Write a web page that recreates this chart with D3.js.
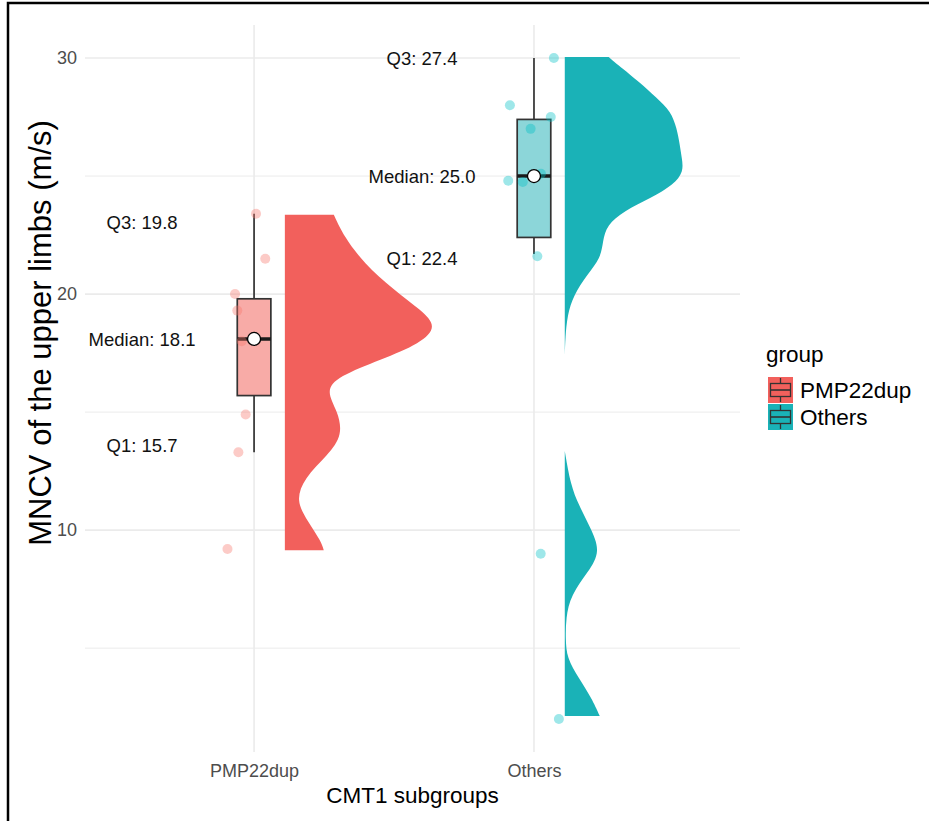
<!DOCTYPE html>
<html>
<head>
<meta charset="utf-8">
<script src="https://cdn.jsdelivr.net/npm/d3@7"></script>
<style>
  body { margin: 0; background: #fff; }
  svg { display: block; font-family: "Liberation Sans", Arial, sans-serif; }
</style>
</head>
<body>
<svg></svg>
<script>
// groups and summary stats
const groups = ["PMP22dup", "Others"]
const q1 = [15.7, 22.4]
const medians = [18.1, 25.0]
const q3 = [19.8, 27.4]
const whiskerLow = [13.3, 21.7]
const whiskerHigh = [23.4, 30.0]

// raw points (value) and their jitter offset from the group centre
const pmpValues = [23.4, 21.5, 20.0, 19.3, 18.0, 14.9, 13.3, 9.2]
const pmpJitter = [0.007, 0.04, -0.068, -0.06, -0.044, -0.03, -0.056, -0.095]
const othersValues = [30.0, 28.0, 27.5, 27.0, 24.8, 24.75, 25.1, 21.6, 9.0, 2.0]
const othersJitter = [0.071, -0.086, 0.06, -0.012, -0.092, -0.04, 0.025, 0.012, 0.024, 0.089]

// half violin profiles: value and width (x units)
const pmpDensityV = [23.36, 22.44, 21.31, 20.18, 19.33, 18.63, 17.92, 17.22, 16.51, 15.89, 15.04, 14.03, 13.18, 12.20, 11.23, 10.38, 9.53, 9.15]
const pmpDensityW = [0.175, 0.211, 0.282, 0.389, 0.486, 0.545, 0.486, 0.343, 0.189, 0.146, 0.189, 0.207, 0.154, 0.068, 0.039, 0.082, 0.129, 0.139]
// the Others density drops to ~0 between about 17 and 13, so it is kept in two pieces
const othersUpperV = [30.04, 29.58, 29.01, 28.31, 27.74, 27.03, 26.33, 25.76, 25.20, 24.63, 24.07, 23.52, 22.92, 22.25, 21.53, 20.81, 19.96, 19.11, 18.14, 17.42]
const othersUpperW = [0.157, 0.204, 0.264, 0.329, 0.379, 0.4, 0.411, 0.418, 0.425, 0.389, 0.307, 0.211, 0.15, 0.136, 0.129, 0.079, 0.032, 0.009, 0.002, 0]
const othersLowerV = [13.35, 11.91, 11.06, 10.08, 9.11, 8.26, 7.25, 6.27, 5.42, 4.58, 3.73, 2.88, 2.12]
const othersLowerW = [0, 0.021, 0.05, 0.093, 0.128, 0.086, 0.021, 0.004, 0.003, 0.007, 0.05, 0.096, 0.125]

// where the Q1 / Q3 text labels sit (value units)
const labelQ3At = [23.05, 30.0]
const labelQ1At = [13.6, 21.5]

const yTicks = [10, 20, 30]
const yMinor = [5, 15, 25]

const width = 929
const height = 821

const svg = d3.select("svg")
  .attr("width", width)
  .attr("height", height)

const fill = d3.scaleOrdinal().domain(groups).range(["#F2605C", "#1AB2B7"])
const boxFill = d3.scaleOrdinal().domain(groups).range(["#F8ABA7", "#8CD6D9"])
const pointFill = d3.scaleOrdinal().domain(groups).range(["#F8766D", "#00BFC4"])

const allValues = pmpValues.concat(othersValues)
const ext = d3.extent(allValues)
const pad = (ext[1] - ext[0]) * 0.05

const x = d3.scaleLinear()
  .domain([0.396, 2.736])
  .range([85, 740])

const y = d3.scaleLinear()
  .domain([ext[0] - pad, ext[1] + pad])
  .range([752, 25])

// frame
svg.append("path")
  .attr("d", `M8,${height}V3H${width}`)
  .attr("fill", "none")
  .attr("stroke", "#000")
  .attr("stroke-width", 2.5)

// grid
const grid = svg.append("g").attr("class", "grid")
grid.selectAll("line.minor")
  .data(yMinor)
  .enter()
  .append("line")
  .attr("x1", x.range()[0]).attr("x2", x.range()[1])
  .attr("y1", d => y(d)).attr("y2", d => y(d))
  .attr("stroke", "#ebebeb")
  .attr("stroke-width", 1)
grid.selectAll("line.major")
  .data(yTicks)
  .enter()
  .append("line")
  .attr("x1", x.range()[0]).attr("x2", x.range()[1])
  .attr("y1", d => y(d)).attr("y2", d => y(d))
  .attr("stroke", "#ebebeb")
  .attr("stroke-width", 1.6)
grid.selectAll("line.vert")
  .data(groups)
  .enter()
  .append("line")
  .attr("x1", (d, i) => x(i + 1)).attr("x2", (d, i) => x(i + 1))
  .attr("y1", y.range()[1]).attr("y2", y.range()[0])
  .attr("stroke", "#ebebeb")
  .attr("stroke-width", 1.6)

// axes
const yAxis = d3.axisLeft(y).tickValues(yTicks).tickSize(0).tickPadding(8)
svg.append("g")
  .attr("transform", `translate(${x.range()[0]},0)`)
  .call(yAxis)
  .call(g => g.select(".domain").remove())
  .selectAll("text")
  .attr("font-size", 18)
  .attr("fill", "#4d4d4d")
  .attr("font-family", "Liberation Sans, Arial, sans-serif")

const xAxis = d3.axisBottom(x).tickValues([1, 2]).tickFormat((d, i) => groups[i]).tickSize(0).tickPadding(12)
svg.append("g")
  .attr("transform", `translate(0,${y.range()[0]})`)
  .call(xAxis)
  .call(g => g.select(".domain").remove())
  .selectAll("text")
  .attr("font-size", 18)
  .attr("fill", "#4d4d4d")
  .attr("font-family", "Liberation Sans, Arial, sans-serif")

svg.append("text")
  .attr("x", (x.range()[0] + x.range()[1]) / 2)
  .attr("y", 803)
  .attr("text-anchor", "middle")
  .attr("font-size", 22.5)
  .attr("fill", "#000")
  .text("CMT1 subgroups")

svg.append("text")
  .attr("transform", "translate(51,333) rotate(-90)")
  .attr("text-anchor", "middle")
  .attr("font-size", 31)
  .attr("fill", "#000")
  .text("MNCV of the upper limbs (m/s)")

// half violins
const densities = [
  { group: "PMP22dup", pos: 1, v: pmpDensityV, w: pmpDensityW },
  { group: "Others", pos: 2, v: othersUpperV, w: othersUpperW },
  { group: "Others", pos: 2, v: othersLowerV, w: othersLowerW }
]
const offset = 0.11
densities.forEach(dd => {
  const rows = dd.v.map((v, i) => ({ v: v, w: dd.w[i] })).sort((a, b) => a.v - b.v)
  const area = d3.area()
    .y(d => y(d.v))
    .x0(x(dd.pos + offset))
    .x1(d => x(dd.pos + offset + d.w))
    .curve(d3.curveBasis)
  svg.append("path")
    .attr("d", area(rows))
    .attr("fill", fill(dd.group))
})

// boxplots
const boxW = 0.12
const boxes = svg.append("g").attr("class", "boxes")
groups.forEach((g, i) => {
  const cx = i + 1
  const bg = boxes.append("g")
  bg.append("line")
    .attr("x1", x(cx)).attr("x2", x(cx))
    .attr("y1", y(whiskerHigh[i])).attr("y2", y(q3[i]))
    .attr("stroke", "#333").attr("stroke-width", 1.7)
  bg.append("line")
    .attr("x1", x(cx)).attr("x2", x(cx))
    .attr("y1", y(q1[i])).attr("y2", y(whiskerLow[i]))
    .attr("stroke", "#333").attr("stroke-width", 1.7)
  bg.append("rect")
    .attr("x", x(cx - boxW / 2))
    .attr("y", y(q3[i]))
    .attr("width", x(cx + boxW / 2) - x(cx - boxW / 2))
    .attr("height", y(q1[i]) - y(q3[i]))
    .attr("fill", boxFill(g))
    .attr("stroke", "#333")
    .attr("stroke-width", 1.7)
  bg.append("line")
    .attr("x1", x(cx - boxW / 2)).attr("x2", x(cx + boxW / 2))
    .attr("y1", y(medians[i])).attr("y2", y(medians[i]))
    .attr("stroke", "#1a1a1a").attr("stroke-width", 3.6)
})

// jittered points
const points = [
  { group: "PMP22dup", pos: 1, v: pmpValues, j: pmpJitter },
  { group: "Others", pos: 2, v: othersValues, j: othersJitter }
]
points.forEach(p => {
  svg.append("g")
    .selectAll("circle")
    .data(p.v)
    .enter()
    .append("circle")
    .attr("cx", (d, i) => x(p.pos + p.j[i]))
    .attr("cy", d => y(d))
    .attr("r", 5)
    .attr("fill", pointFill(p.group))
    .attr("fill-opacity", 0.38)
})

// median markers
svg.append("g")
  .selectAll("circle")
  .data(medians)
  .enter()
  .append("circle")
  .attr("cx", (d, i) => x(i + 1))
  .attr("cy", d => y(d))
  .attr("r", 6.5)
  .attr("fill", "#fff")
  .attr("stroke", "#000")
  .attr("stroke-width", 1.3)

// stat labels
const labels = []
groups.forEach((g, i) => {
  labels.push({ pos: i + 1, v: labelQ3At[i], text: `Q3: ${q3[i].toFixed(1)}` })
  labels.push({ pos: i + 1, v: medians[i], text: `Median: ${medians[i].toFixed(1)}` })
  labels.push({ pos: i + 1, v: labelQ1At[i], text: `Q1: ${q1[i].toFixed(1)}` })
})
svg.append("g")
  .selectAll("text")
  .data(labels)
  .enter()
  .append("text")
  .attr("x", d => x(d.pos - 0.4))
  .attr("y", d => y(d.v))
  .attr("dy", "0.36em")
  .attr("text-anchor", "middle")
  .attr("font-size", 18.5)
  .attr("fill", "#111")
  .text(d => d.text)

// legend
const legend = svg.append("g").attr("transform", "translate(766,0)")
legend.append("text")
  .attr("x", 0)
  .attr("y", 362)
  .attr("font-size", 22.5)
  .attr("fill", "#000")
  .text("group")
const keys = legend.selectAll("g.key")
  .data(groups)
  .enter()
  .append("g")
  .attr("transform", (d, i) => `translate(2,${377 + i * 27})`)
keys.append("rect")
  .attr("width", 25).attr("height", 26)
  .attr("fill", d => fill(d))
keys.append("rect")
  .attr("x", 2.5).attr("y", 6.5).attr("width", 20).attr("height", 13)
  .attr("fill", d => fill(d))
  .attr("stroke", "#333").attr("stroke-width", 1.3)
keys.append("line")
  .attr("x1", 2.5).attr("x2", 22.5).attr("y1", 13).attr("y2", 13)
  .attr("stroke", "#333").attr("stroke-width", 1.6)
keys.append("line")
  .attr("x1", 12.5).attr("x2", 12.5).attr("y1", 1).attr("y2", 6.5)
  .attr("stroke", "#333").attr("stroke-width", 1.3)
keys.append("line")
  .attr("x1", 12.5).attr("x2", 12.5).attr("y1", 19.5).attr("y2", 25)
  .attr("stroke", "#333").attr("stroke-width", 1.3)
keys.append("text")
  .attr("x", 32)
  .attr("y", 13)
  .attr("dy", "0.36em")
  .attr("font-size", 22.5)
  .attr("fill", "#000")
  .text(d => d)
</script>
</body>
</html>
